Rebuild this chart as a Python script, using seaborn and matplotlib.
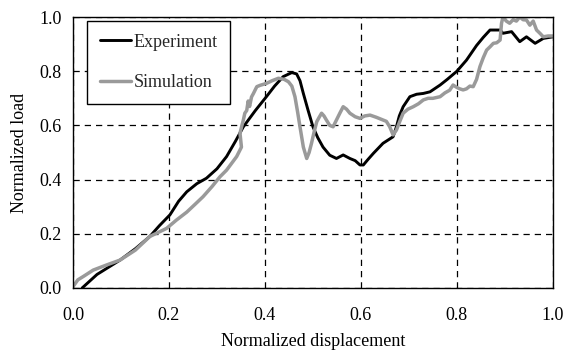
import matplotlib
matplotlib.use("Agg")
import matplotlib.pyplot as plt
import seaborn as sns
import pandas as pd

exp_x = [0.019, 0.05, 0.098, 0.13, 0.16, 0.18, 0.202, 0.22, 0.237, 0.258, 0.278, 0.30, 0.32, 0.338, 0.355, 0.38, 0.403, 0.42, 0.438, 0.456, 0.466, 0.473,
         0.48, 0.49, 0.50, 0.51, 0.521, 0.535, 0.549, 0.563, 0.577, 0.588, 0.598, 0.605, 0.615, 0.626, 0.646, 0.66, 0.667, 0.674,
         0.68, 0.688, 0.702, 0.716, 0.73, 0.744, 0.765, 0.78, 0.80, 0.82, 0.841, 0.855, 0.869, 0.89, 0.896, 0.914, 0.931,
         0.945, 0.963, 0.98, 1.0]
exp_y = [0.0, 0.05, 0.103, 0.145, 0.19, 0.23, 0.27, 0.32, 0.355, 0.385, 0.405, 0.44, 0.485, 0.54, 0.595, 0.655, 0.706, 0.745, 0.78, 0.795, 0.79, 0.765,
         0.718, 0.655, 0.595, 0.555, 0.52, 0.49, 0.478, 0.491, 0.478, 0.47, 0.454, 0.454, 0.475, 0.497, 0.534, 0.55, 0.558, 0.595,
         0.635, 0.669, 0.706, 0.715, 0.718, 0.724, 0.749, 0.77, 0.80, 0.841, 0.895, 0.925, 0.952, 0.952, 0.94, 0.946, 0.909,
         0.927, 0.903, 0.921, 0.927]

sim_x = [0.0, 0.01, 0.021, 0.042, 0.07, 0.098, 0.13, 0.16, 0.195, 0.215, 0.237, 0.255, 0.271, 0.29, 0.306, 0.32, 0.341, 0.351, 0.348, 0.352,
         0.355, 0.358, 0.362, 0.365, 0.368, 0.372, 0.376, 0.383, 0.39, 0.403, 0.415, 0.428, 0.44, 0.449, 0.456, 0.4625, 0.468, 0.473, 0.48,
         0.487, 0.492, 0.497, 0.503, 0.508, 0.513, 0.518, 0.523, 0.528, 0.535, 0.542, 0.549, 0.556, 0.563, 0.57, 0.577, 0.588, 0.598,
         0.608, 0.619, 0.632, 0.646, 0.653, 0.66, 0.667, 0.674, 0.681, 0.688, 0.698, 0.709, 0.72, 0.73, 0.74, 0.75, 0.765, 0.775,
         0.785, 0.792, 0.80, 0.806, 0.813, 0.82, 0.827, 0.834, 0.841, 0.848, 0.855, 0.862, 0.869, 0.876, 0.883, 0.89, 0.893,
         0.896, 0.903, 0.91, 0.917, 0.924, 0.931, 0.938, 0.945, 0.952, 0.959, 0.966, 0.973, 0.98, 0.99, 1.0]
sim_y = [0.005, 0.03, 0.042, 0.066, 0.085, 0.103, 0.14, 0.19, 0.22, 0.25, 0.28, 0.31, 0.337, 0.375, 0.41, 0.435, 0.485, 0.52, 0.571, 0.60,
         0.62, 0.645, 0.655, 0.69, 0.67, 0.705, 0.718, 0.743, 0.748, 0.755, 0.765, 0.774, 0.77, 0.761, 0.745, 0.706, 0.65, 0.595, 0.52,
         0.478, 0.5, 0.534, 0.58, 0.614, 0.63, 0.645, 0.635, 0.62, 0.60, 0.595, 0.62, 0.645, 0.669, 0.66, 0.645, 0.632, 0.626,
         0.635, 0.638, 0.63, 0.62, 0.615, 0.595, 0.565, 0.583, 0.615, 0.645, 0.66, 0.669, 0.68, 0.694, 0.70, 0.70, 0.706, 0.72,
         0.73, 0.749, 0.74, 0.735, 0.731, 0.735, 0.745, 0.743, 0.77, 0.817, 0.85, 0.878, 0.89, 0.903, 0.905, 0.915, 0.977,
         1.0, 0.985, 0.977, 0.99, 0.985, 1.0, 0.99, 0.989, 0.97, 0.985, 0.952, 0.94, 0.927, 0.93, 0.93]

xticks = [0.0, 0.2, 0.4, 0.6, 0.8, 1.0]
yticks = [0.0, 0.2, 0.4, 0.6, 0.8, 1.0]

sns.set_theme(style="white")
plt.rcParams['font.family'] = ['Liberation Serif', 'DejaVu Serif']

df = pd.concat([
    pd.DataFrame({"x": exp_x, "y": exp_y, "series": "Experiment"}),
    pd.DataFrame({"x": sim_x, "y": sim_y, "series": "Simulation"}),
])

fig = plt.figure(figsize=(5.63, 3.51), dpi=100)
ax = fig.add_axes([0.1297, 0.1795, 0.8523, 0.772])

sns.lineplot(data=df[df.series == "Experiment"], x="x", y="y", ax=ax, color="black", lw=2.1,
             label="Experiment", sort=False, estimator=None)
sns.lineplot(data=df[df.series == "Simulation"], x="x", y="y", ax=ax, color="#9a9a9a", lw=2.5,
             label="Simulation", sort=False, estimator=None)

ax.set_xlim(0, 1)
ax.set_ylim(0, 1)
ax.set_xticks(xticks)
ax.set_yticks(yticks)
ax.set_xticklabels([f"{v:.1f}" for v in xticks])
ax.set_yticklabels([f"{v:.1f}" for v in yticks])
ax.tick_params(length=0, labelsize=13, colors="black")
ax.tick_params(axis="x", pad=14)
ax.tick_params(axis="y", pad=8)
ax.grid(True, color="black", linestyle=(0, (5, 4)), lw=0.9)
for s in ax.spines.values():
    s.set_color("black")
    s.set_linewidth(1.0)
ax.set_xlabel("Normalized displacement", fontsize=13, color="black", labelpad=6)
ax.set_ylabel("Normalized load", fontsize=13, color="black", labelpad=8)

leg = ax.legend(loc="upper left", bbox_to_anchor=(0.03, 0.985), fontsize=13, frameon=True, fancybox=False,
                edgecolor="black", framealpha=1, handlelength=1.7, handletextpad=0.15, labelspacing=1.3,
                borderpad=0.7, borderaxespad=0)
leg.get_frame().set_linewidth(1.0)

fig.savefig("out.png", dpi=100)
